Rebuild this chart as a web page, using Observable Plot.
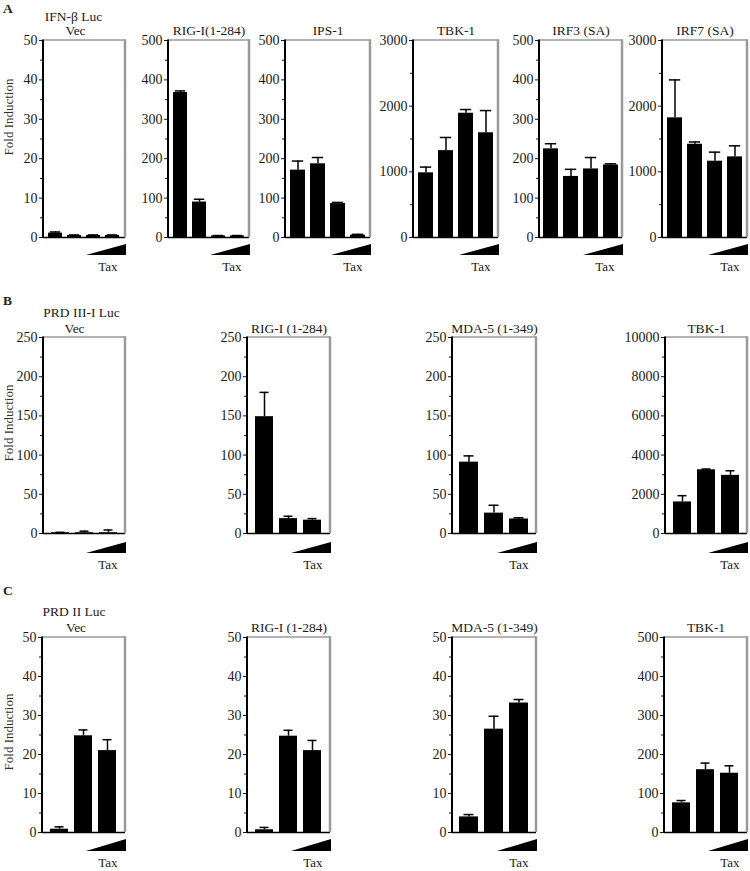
<!DOCTYPE html>
<html><head><meta charset="utf-8">
<script src="https://cdn.jsdelivr.net/npm/d3@7"></script>
<script src="https://cdn.jsdelivr.net/npm/@observablehq/plot@0.6"></script>
<style>
body{margin:0;background:#fff;}
#fig{position:relative;width:750px;height:871px;font-family:"Liberation Serif","Times New Roman",serif;color:#222;overflow:hidden;}
.lab{position:absolute;white-space:nowrap;line-height:1;}
.plot{position:absolute;}
</style></head><body><div id="fig"></div>
<script>
// ---------- data ----------
// Panel A: IFN-β Luc (4 conditions: -, then increasing Tax)
const aVec = [1.1, 0.5, 0.5, 0.5];          const aVecErr = [0.3, 0.15, 0.15, 0.15];
const aRig = [368, 90, 4, 4];               const aRigErr = [4, 7, 1, 1];
const aIps = [171, 187, 86, 6];             const aIpsErr = [23, 16, 3, 2];
const aTbk = [985, 1323, 1892, 1595];       const aTbkErr = [87, 200, 57, 338];
const aIrf3 = [225, 155, 174, 184];         const aIrf3Err = [13, 18, 29, 3];
const aIrf7 = [1822, 1420, 1162, 1228];     const aIrf7Err = [578, 35, 138, 168];
// Panel B: PRD III-I Luc (3 conditions)
const bVec = [1, 1, 1];                     const bVecErr = [0.5, 2, 3.5];
const bRig = [149, 19, 17];                 const bRigErr = [31, 3, 2];
const bMda = [91, 26, 18.5];                const bMdaErr = [8, 10, 1.5];
const bTbk = [1610, 3250, 2966];            const bTbkErr = [320, 40, 234];
// Panel C: PRD II Luc (3 conditions)
const cVec = [0.85, 24.8, 21.0];            const cVecErr = [0.6, 1.5, 2.8];
const cRig = [0.7, 24.7, 21.0];             const cRigErr = [0.6, 1.5, 2.6];
const cMda = [4.0, 26.5, 33.2];             const cMdaErr = [0.6, 3.3, 0.9];
const cTbk = [76, 161, 152];                const cTbkErr = [6, 17, 19];

const yMaxes = {a: [50, 500, 500, 3000, 500, 3000], b: [250, 250, 250, 10000], c: [50, 50, 50, 500]};
const yStepsA = [10, 100, 100, 1000, 100, 1000];
const yStepsB = [50, 50, 50, 2000];
const yStepsC = [10, 10, 10, 100];
const titlesA = ["Vec", "RIG-I(1-284)", "IPS-1", "TBK-1", "IRF3 (SA)", "IRF7 (SA)"];
const titlesB = ["Vec", "RIG-I (1-284)", "MDA-5 (1-349)", "TBK-1"];
const titlesC = ["Vec", "RIG-I (1-284)", "MDA-5 (1-349)", "TBK-1"];
const reporters = ["IFN-β Luc", "PRD III-I Luc", "PRD II Luc"];
const letters = ["A", "B", "C"];
const taxLabel = "Tax";
const yLabel = "Fold Induction";

// ---------- layout ----------
const rows = [
  {T: 40, B: 237, triT: 7, triB: 18, taxDy: 33, tdy: -6, l1dy: -20, l1dx: -11, vdx: -9, letterY: 13, labelY: 117,
   Ls: [43, 168, 285, 413, 539, 662], Rs: [125, 249, 370, 498, 622, 747],
   vals: [aVec, aRig, aIps, aTbk, aIrf3, aIrf7], errs: [aVecErr, aRigErr, aIpsErr, aTbkErr, aIrf3Err, aIrf7Err],
   ymax: yMaxes.a, steps: yStepsA, titles: titlesA},
  {T: 337, B: 533, triT: 9, triB: 20, taxDy: 35, tdy: -5, l1dy: -21, l1dx: -3, vdx: -10, letterY: 305, labelY: 423,
   Ls: [43, 247, 452, 665], Rs: [125, 330, 536, 747],
   vals: [bVec, bRig, bMda, bTbk], errs: [bVecErr, bRigErr, bMdaErr, bTbkErr],
   ymax: yMaxes.b, steps: yStepsB, titles: titlesB},
  {T: 637, B: 832, triT: 7, triB: 19, taxDy: 34, tdy: -6, l1dy: -22, l1dx: -10, vdx: -8, letterY: 595, labelY: 732,
   Ls: [42, 247, 452, 664], Rs: [125, 330, 536, 747],
   vals: [cVec, cRig, cMda, cTbk], errs: [cVecErr, cRigErr, cMdaErr, cTbkErr],
   ymax: yMaxes.c, steps: yStepsC, titles: titlesC}
];

const fig = document.getElementById("fig");
const FONT = "'Liberation Serif', 'Times New Roman', serif";

function addLabel(text, x, baseline, size, opts = {}) {
  const d = document.createElement("div");
  d.className = "lab";
  d.textContent = text;
  d.style.fontSize = size + "px";
  d.style.left = x + "px";
  d.style.top = (baseline - 0.8375 * size) + "px";
  if (opts.bold) d.style.fontWeight = "bold";
  if (opts.color) d.style.color = opts.color;
  fig.appendChild(d);
  return d;
}

function drawPanel(row, ri, i) {
  const L = row.Ls[i], R = row.Rs[i];
  const values = row.vals[i], errs = row.errs[i];
  const yMax = row.ymax[i], yStep = row.steps[i];
  const mL = 46, mR = 6, mT = 48, mB = 44;
  const fw = R - L, fh = row.B - row.T;
  const width = fw + mL + mR, height = fh + mT + mB;
  const n = values.length;
  const data = values.map((v, k) => ({k, v, top: v + errs[k]}));
  const majors = d3.range(0, yMax + yStep / 2, yStep);
  const minors = d3.range(yStep / 2, yMax, yStep);
  const inset = n === 4 ? 1.8 : 4.5;

  const deco = () => {
    const g = d3.create("svg:g");
    g.append("line").attr("x1", mL).attr("x2", mL + fw).attr("y1", mT).attr("y2", mT)
      .attr("stroke", "#9a9a9a").attr("stroke-width", 1.5);
    g.append("line").attr("x1", mL + fw).attr("x2", mL + fw).attr("y1", mT - 0.75).attr("y2", mT + fh)
      .attr("stroke", "#9a9a9a").attr("stroke-width", 2.5);
    g.append("line").attr("x1", mL).attr("x2", mL).attr("y1", mT - 0.5).attr("y2", mT + fh + 0.5)
      .attr("stroke", "#000").attr("stroke-width", 2);
    const yb = mT + fh;
    g.append("polygon")
      .attr("points", `${mL + fw - 39},${yb + row.triB} ${mL + fw + 1},${yb + row.triB} ${mL + fw + 1},${yb + row.triT}`)
      .attr("fill", "#000");
    return g.node();
  };

  const marks = [
    Plot.barY(data, {x: "k", y: "v", fill: "#000"}),
    Plot.ruleX(data, {x: "k", y1: "v", y2: "top", stroke: "#000", strokeWidth: 1.5}),
    Plot.tickY(data, {x: "k", y: "top", stroke: "#000", strokeWidth: 1.5, insetLeft: inset, insetRight: inset}),
    Plot.axisY({ticks: majors, tickSize: 4, tickPadding: 2, tickFormat: d => String(d), fontSize: 14, label: null}),
    Plot.axisY({ticks: minors, tickSize: 3, tickFormat: () => "", label: null}),
    Plot.ruleY([0], {stroke: "#000", strokeWidth: 1.5}),
    deco,
    Plot.text([row.titles[i]], {frameAnchor: "top", dx: i === 0 ? row.vdx : 0, dy: row.tdy, lineAnchor: "bottom", fontSize: 13.5}),
    Plot.text([taxLabel], {frameAnchor: "bottom-right", dx: -8, dy: row.taxDy, textAnchor: "end", lineAnchor: "bottom", fontSize: 13})
  ];
  if (i === 0) {
    marks.push(Plot.text([reporters[ri]], {frameAnchor: "top", dx: row.l1dx, dy: row.l1dy, lineAnchor: "bottom", fontSize: 13.5}));
  }

  const svg = Plot.plot({
    width, height, marginLeft: mL, marginRight: mR, marginTop: mT, marginBottom: mB,
    style: {fontFamily: FONT, fontSize: "14px", color: "#1a1a1a", background: "transparent", maxWidth: "none"},
    x: {type: "band", domain: d3.range(n), paddingInner: n === 4 ? 0.26 : 0.23, paddingOuter: n === 4 ? 0.2 : 0.28, axis: null},
    y: {domain: [0, yMax], label: null},
    marks
  });
  const wrap = document.createElement("div");
  wrap.className = "plot";
  wrap.style.left = (L - mL) + "px";
  wrap.style.top = (row.T - mT) + "px";
  wrap.appendChild(svg);
  fig.appendChild(wrap);
}

rows.forEach((row, ri) => {
  row.Ls.forEach((_, i) => drawPanel(row, ri, i));
  addLabel(letters[ri], 3, row.letterY, 13.5, {bold: true});
  const yl = addLabel(yLabel, 0, 0, 13, {color: "#333"});
  yl.style.top = row.labelY + "px";
  yl.style.left = "8px";
  yl.style.transform = "translate(-50%,-50%) rotate(-90deg)";
});
</script></body></html>
